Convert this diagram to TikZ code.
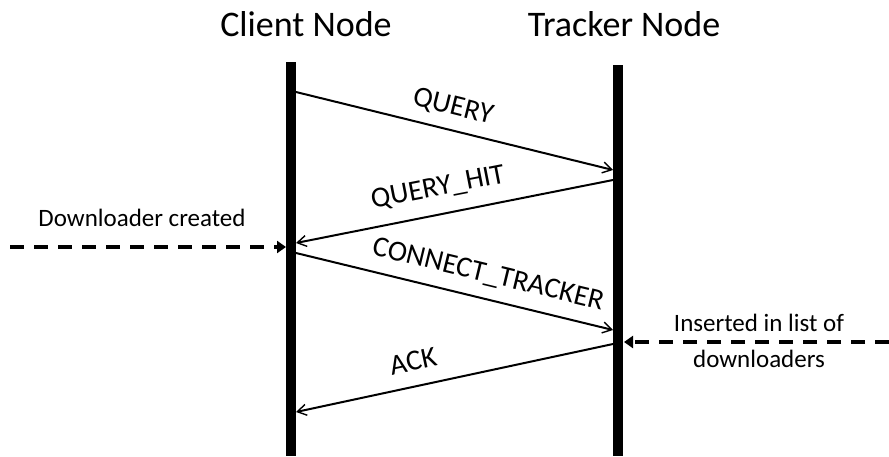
\documentclass[tikz,border=0pt]{standalone}
\usepackage{fontspec}
\setmainfont{Carlito}
\usetikzlibrary{arrows.meta}
\begin{document}
\begin{tikzpicture}[x=1pt,y=-1pt,
  lifeline/.style={line width=10pt},
  msg/.style={line width=2pt,-{Straight Barb[length=9pt,width=11pt,line width=1.4pt]}},
  event/.style={line width=4.5pt,dash pattern=on 14pt off 10pt,-{Triangle[length=9pt,width=12pt]}},
  title/.style={font=\fontsize{36}{42}\selectfont,anchor=base},
  lbl/.style={font=\fontsize{29}{34}\selectfont},
  note/.style={font=\fontsize{25}{30}\selectfont,align=center}]
\useasboundingbox (0,0) rectangle (889,456);
% participants
\node[title] (client) at (306,36) {Client Node};
\node[title] (tracker) at (624,36) {Tracker Node};
% lifelines
\coordinate (ctop) at (291,62);
\coordinate (cbot) at (291,456);
\coordinate (ttop) at (618,65);
\coordinate (tbot) at (618,456);
\draw[lifeline] (ctop) -- (cbot);
\draw[lifeline] (ttop) -- (tbot);
% message anchors
\coordinate (q1) at (296,92);
\coordinate (q2) at (613,170);
\coordinate (h1) at (613,180);
\coordinate (h2) at (296,243);
\coordinate (c1) at (296,253);
\coordinate (c2) at (613,330);
\coordinate (a1) at (613,344);
\coordinate (a2) at (296,412);
\draw[msg] (q1) -- (q2);
\draw[msg] (h1) -- (h2);
\draw[msg] (c1) -- (c2);
\draw[msg] (a1) -- (a2);
% message labels
\node[lbl,rotate=-14] (lq) at (453,107) {QUERY};
\node[lbl,rotate=11] (lh) at (438,188) {QUERY\_HIT};
\node[lbl,rotate=-13.6] (lc) at (488,275) {CONNECT\_TRACKER};
\node[lbl,rotate=12] (la) at (413,361) {ACK};
% external events
\coordinate (d1) at (10,247);
\coordinate (d2) at (286,247);
\coordinate (i1) at (889,342);
\coordinate (i2) at (624,342);
\draw[event] (d1) -- (d2);
\draw[event] (i1) -- (i2);
\node[note] (nd) at (142,218) {Downloader created};
\node[note] (ni) at (759,341) {Inserted in list of\\[6pt]downloaders};
\end{tikzpicture}
\end{document}
